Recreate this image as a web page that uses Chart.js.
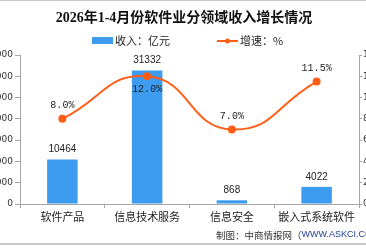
<!DOCTYPE html>
<html>
<head>
<meta charset="utf-8">
<script src="https://cdn.jsdelivr.net/npm/chart.js@4"></script>
<style>
  html, body { margin: 0; padding: 0; background: #fff; overflow: hidden; }
  #wrap { position: absolute; left: -16px; top: 0; width: 396px; height: 248px; }
</style>
</head>
<body>
<div id="wrap"><canvas id="myChart" width="396" height="248"></canvas></div>
<script>
'use strict'

// data
const categories = ['软件产品', '信息技术服务', '信息安全', '嵌入式系统软件'];
const revenue = [10464, 31332, 868, 4022]; // 亿元
const growth = [8.0, 12.0, 7.0, 11.5]; // %
const leftTicks = [0, 5000, 10000, 15000, 20000, 25000, 30000, 35000];
const rightTicks = [0, 2, 4, 6, 8, 10, 12, 14];

const BLUE = '#3d9bf0';
const ORANGE = '#ff5e17';
const AXIS = '#a6a6a6';

// title, legend, value labels and footer
const textPlugin = {
  id: 'texts',
  afterDatasetsDraw(chart) {
    const c = chart.ctx;
    c.save();
    c.textBaseline = 'middle';

    // value labels on bars
    c.fillStyle = '#222';
    c.font = '10px "Liberation Sans", sans-serif';
    c.textAlign = 'center';
    chart.getDatasetMeta(0).data.forEach((bar, i) => {
      c.fillText(String(revenue[i]), bar.x, bar.y - 10);
    });
    // labels on line points (second one sits below)
    c.font = '10px "Liberation Mono", monospace';
    chart.getDatasetMeta(1).data.forEach((pt, i) => {
      const dy = i === 1 ? 13 : -13;
      c.fillText(growth[i].toFixed(1) + '%', pt.x, pt.y + dy);
    });
    c.restore();
  },
  afterDraw(chart) {
    const c = chart.ctx;
    const ox = 16;
    c.save();
    c.textBaseline = 'middle';

    // frame lines
    c.fillStyle = '#c8c8c8';
    c.fillRect(0, 0, chart.width, 1);
    c.fillRect(0, 243, chart.width, 2);

    // title
    c.fillStyle = '#111';
    c.textAlign = 'center';
    c.font = 'bold 14px "Liberation Serif", "Noto Sans CJK SC", serif';
    c.fillText('2026年1-4月份软件业分领域收入增长情况', ox + 184, 18);

    // legend
    c.textAlign = 'left';
    c.font = '11px "Noto Sans CJK SC", sans-serif';
    c.fillStyle = BLUE;
    c.fillRect(ox + 92, 37, 21, 7);
    c.fillStyle = '#222';
    c.fillText('收入：亿元', ox + 115, 41);
    c.strokeStyle = ORANGE;
    c.lineWidth = 2;
    c.beginPath();
    c.moveTo(ox + 217, 41);
    c.lineTo(ox + 238, 41);
    c.stroke();
    c.fillStyle = ORANGE;
    c.beginPath();
    c.arc(ox + 227.5, 41, 2.5, 0, Math.PI * 2);
    c.fill();
    c.fillStyle = '#222';
    c.fillText('增速：%', ox + 240, 41);

    // footer
    c.font = '9.5px "Noto Sans CJK SC", sans-serif';
    c.fillStyle = '#333';
    const s1 = '制图：中商情报网（';
    c.fillText(s1, ox + 216, 235);
    const w1 = c.measureText(s1).width;
    c.fillStyle = '#1f3f8f';
    c.font = '9px "Liberation Sans", sans-serif';
    c.fillText('WWW.ASKCI.COM）', ox + 216 + w1, 235);
    c.restore();
  },
};

const ctx = document.getElementById('myChart').getContext('2d');
Chart.defaults.font.family = '"DejaVu Sans", sans-serif';
Chart.defaults.color = '#333';

const myChart = new Chart(ctx, {
  type: 'bar',
  data: {
    labels: categories,
    datasets: [
      {
        type: 'bar',
        label: '收入：亿元',
        data: revenue,
        backgroundColor: BLUE,
        yAxisID: 'y',
        barPercentage: 0.36,
        categoryPercentage: 1,
        order: 2,
      },
      {
        type: 'line',
        label: '增速：%',
        data: growth,
        borderColor: ORANGE,
        backgroundColor: ORANGE,
        borderWidth: 2,
        pointRadius: 3,
        tension: 0.5,
        yAxisID: 'y1',
        order: 1,
      },
    ],
  },
  options: {
    responsive: false,
    animation: false,
    layout: { padding: { top: 55, bottom: 0, left: 0, right: 0 } },
    plugins: {
      legend: { display: false },
      title: { display: false },
      tooltip: { enabled: false },
    },
    scales: {
      x: {
        grid: { drawOnChartArea: false, tickLength: 4, color: AXIS, offset: true },
        border: { color: AXIS },
        ticks: {
          font: { size: 11, family: '"Noto Sans CJK SC", sans-serif' },
          color: '#222',
          padding: 2,
        },
        afterFit: s => { s.height = 44; },
      },
      y: {
        position: 'left',
        min: 0,
        max: 35000,
        afterBuildTicks: s => { s.ticks = leftTicks.map(v => ({ value: v })); },
        grid: { drawOnChartArea: false, tickLength: 5, color: AXIS },
        border: { color: AXIS },
        ticks: { font: { size: 9 }, color: '#333', padding: 2 },
        afterFit: s => { s.width = 36; },
      },
      y1: {
        position: 'right',
        min: 0,
        max: 14,
        afterBuildTicks: s => { s.ticks = rightTicks.map(v => ({ value: v })); },
        grid: { drawOnChartArea: false, tickLength: 3, color: AXIS },
        border: { color: AXIS },
        ticks: { font: { size: 9 }, color: '#333', padding: 1 },
        afterFit: s => { s.width = 21; },
      },
    },
  },
  plugins: [textPlugin],
});
</script>
</body>
</html>
